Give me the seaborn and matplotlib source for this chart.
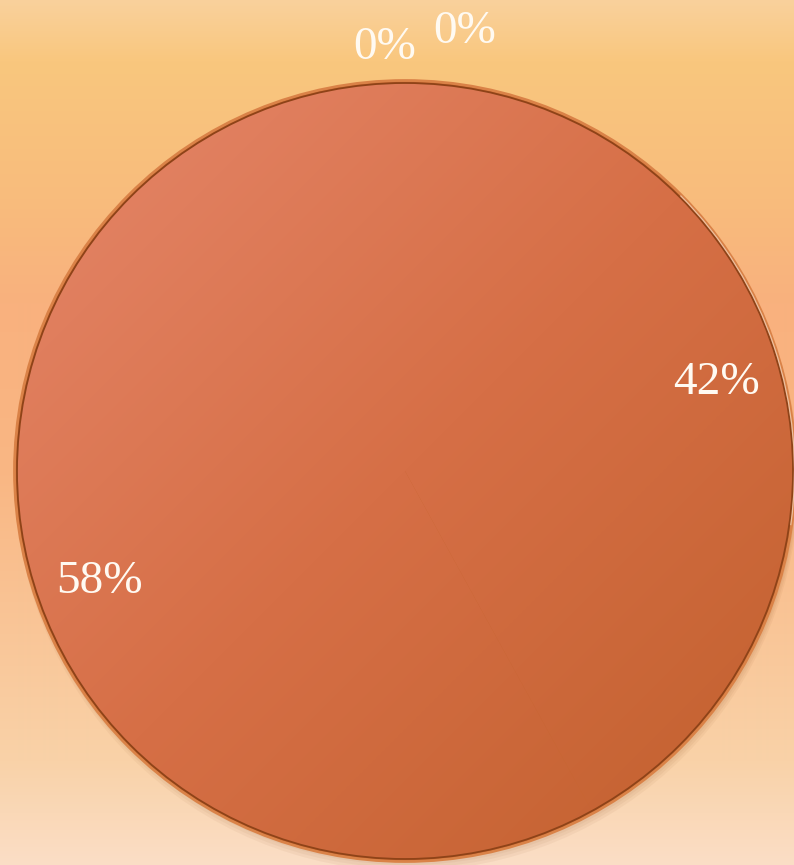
import numpy as np
import matplotlib
matplotlib.use("Agg")
import matplotlib.pyplot as plt
from matplotlib.colors import LinearSegmentedColormap
from matplotlib.patches import Circle, Arc
import seaborn as sns

# ---- data ----
categories = ["A", "B", "C", "D"]
values = [0, 0, 42, 58]
labels = ["0%", "0%", "42%", "58%"]

sns.set_theme(style="white")
plt.rcParams["font.family"] = ["Liberation Serif", "DejaVu Serif"]

W, H = 794, 865
fig = plt.figure(figsize=(W / 100, H / 100), dpi=100)
ax = fig.add_axes([0, 0, 1, 1])

# background vertical gradient (bottom -> top)
bg_cmap = LinearSegmentedColormap.from_list(
    "bg", [(0.0, "#FBDEC6"), (0.12, "#F9D2A8"), (0.45, "#F9B784"), (0.65, "#F9B17E"),
           (0.77, "#F8BC7C"), (0.93, "#F9C77E"), (1.0, "#FAD19C")], N=2048)
grad = np.linspace(0, 1, 1730).reshape(-1, 1)
ax.imshow(grad, extent=[0, W, 0, H], origin="lower", cmap=bg_cmap, aspect="auto",
          interpolation="bilinear", zorder=0)

cx, cy, R = 405, H - 471, 388

# soft shadow
for i in range(3):
    ax.add_patch(Circle((cx + 2, cy - 4 - 2 * i), R + 2 + i, color="#7A3A10", alpha=0.05, lw=0, zorder=1))

# outer bevel ring
ax.add_patch(Circle((cx, cy), R + 2.5, facecolor="#C8662F", edgecolor="#DA8247", lw=2, zorder=2))

pie_base = sns.color_palette(["#D2703F"] * len(values))
wedges, _ = ax.pie(values, center=(cx, cy), radius=R, startangle=90, counterclock=False,
                   colors=pie_base, wedgeprops=dict(linewidth=0), frame=True)
ax.set_xlim(0, W)
ax.set_ylim(0, H)
ax.set_aspect("equal")
ax.axis("off")

# gradient fill inside the wedges
pie_cmap = LinearSegmentedColormap.from_list("pie", ["#E6876B", "#D66F46", "#C1602D"], N=1024)
yy, xx = np.mgrid[0:1:600j, 0:1:600j]
diag = (xx + (1 - yy)) / 2.0
for w in wedges:
    w.set_facecolor("none")
    w.set_edgecolor("none")
    im = ax.imshow(diag, extent=[cx - R, cx + R, cy - R, cy + R], origin="lower",
                   cmap=pie_cmap, aspect="auto", interpolation="bilinear", zorder=3)
    im.set_clip_path(w)

# dark rim line
ax.add_patch(Circle((cx, cy), R, facecolor="none", edgecolor="#8E4318", lw=1.3, zorder=5))
# light highlight on the right rim
ax.add_patch(Arc((cx, cy), 2 * R + 3, 2 * R + 3, theta1=-8, theta2=45,
                 color="#F6DCC6", lw=0.9, alpha=0.7, zorder=6))

# labels
nudges = {0: (-20, 12), 1: (60, 28), 2: (0, 8), 3: (6, -31)}
for i, (w, lab) in enumerate(zip(wedges, labels)):
    mid = np.deg2rad((w.theta1 + w.theta2) / 2)
    d = R * 1.06 if values[i] == 0 else R * 0.83
    dx, dy = nudges[i]
    x = cx + d * np.cos(mid) + dx
    y = cy + d * np.sin(mid) + dy
    ax.text(x, y, lab, ha="center", va="center", color="#FFFAF2", fontsize=34, zorder=7)

fig.savefig("out.png", dpi=100)
